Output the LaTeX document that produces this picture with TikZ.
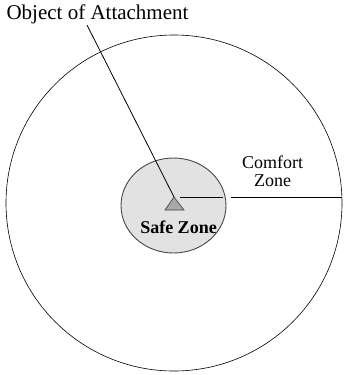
\documentclass[tikz,border=0pt]{standalone}
\usepackage{fontspec}
\setmainfont{Liberation Serif}
\definecolor{safegray}{RGB}{226,226,226}
\definecolor{markgray}{RGB}{168,168,168}
\definecolor{edgegray}{RGB}{70,70,70}
\usetikzlibrary{shapes.geometric,calc}

\begin{document}
\begin{tikzpicture}[x=1pt, y=-1pt,
  zone/.style={draw=black, line width=0.6pt},
  label/.style={inner sep=0pt, align=center}]
  \useasboundingbox (0,0) rectangle (343,375);
  % Zones
  \node[zone, circle, minimum size=336pt, outer sep=0pt] (comfort) at (174,203) {};
  \node[ellipse, draw=edgegray, fill=safegray, line width=0.9pt, minimum width=105pt, minimum height=95pt, outer sep=0pt] (safe) at (173.5,205.5) {};
  % Object marker
  \coordinate (apex) at (174,197);
  \draw[draw=edgegray, fill=markgray, line width=0.7pt] (apex) -- (165,210) -- (184,210) -- cycle;
  % Labels
  \node[label, font=\fontsize{21}{24}\selectfont] (obj) at (97.5,14) {Object of Attachment};
  \node[label, font=\fontsize{18}{18.5}\selectfont] (cztext) at (272.5,171) {Comfort\\Zone};
  \node[label, font=\fontsize{18}{20}\selectfont\bfseries] (sztext) at (178.5,227) {Safe Zone};
  % Pointer and radius
  \coordinate (ptr) at (87,25);
  \draw[line width=0.8pt] (ptr) -- (apex);
  \coordinate (r0) at (180,197.5);
  \coordinate (r1) at (223,197.5);
  \coordinate (r2) at (231,197.5);
  \draw[line width=1.1pt] (r0) -- (r1);
  \draw[line width=1.1pt] (r2) -- (comfort.east |- r2);
\end{tikzpicture}
\end{document}
